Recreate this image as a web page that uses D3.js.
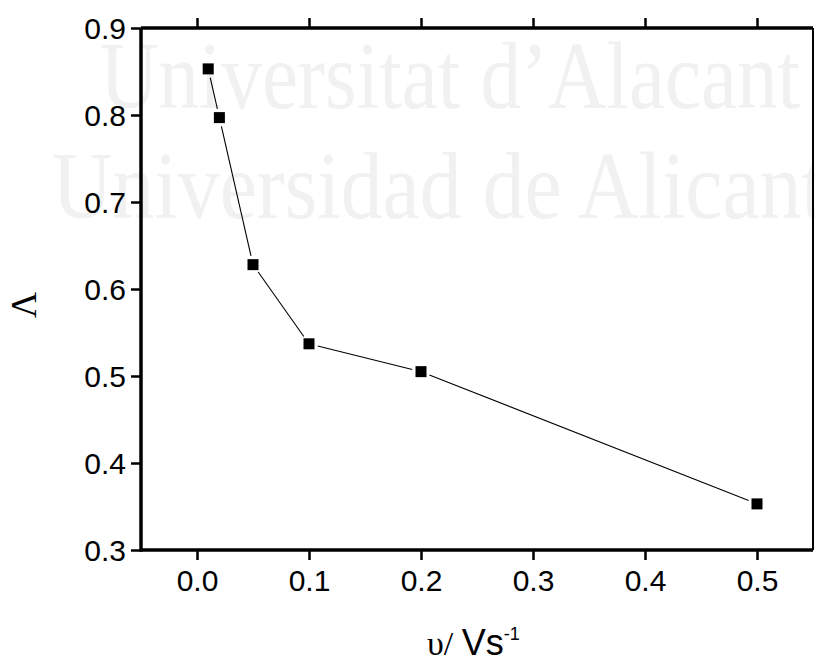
<!DOCTYPE html>
<html>
<head>
<meta charset="utf-8">
<script src="https://cdn.jsdelivr.net/npm/d3@7"></script>
<style>
  body { margin: 0; background: #fff; }
  svg { display: block; }
</style>
</head>
<body>
<div id="graf"></div>
<script>
// datos
const scanRate = [0.01, 0.02, 0.05, 0.1, 0.2, 0.5]
const lambda = [0.853, 0.797, 0.628, 0.537, 0.505, 0.353]
const xTicks = [0.0, 0.1, 0.2, 0.3, 0.4, 0.5]
const yTicks = [0.3, 0.4, 0.5, 0.6, 0.7, 0.8, 0.9]
const watermark = ['Universitat d\u2019Alacant', 'Universidad de Alicante']

const ancho_total = 815, alto_total = 661
const margins = { top: 28, left: 141, right: 2, bottom: 111 }
const ancho = ancho_total - margins.left - margins.right
const alto = alto_total - margins.top - margins.bottom

const svg = d3.select('#graf').append('svg')
  .attr('width', ancho_total)
  .attr('height', alto_total)

// marca de agua
svg.append('g').selectAll('text')
  .data(watermark)
  .join('text')
  .attr('x', (d, i) => i == 0 ? 100 : 52)
  .attr('y', (d, i) => i == 0 ? 108 : 218)
  .attr('textLength', (d, i) => i == 0 ? 700 : 810)
  .attr('lengthAdjust', 'spacingAndGlyphs')
  .style('font-family', '"Liberation Serif", serif')
  .style('font-size', '95px')
  .style('fill', '#f1f1f1')
  .text(d => d)

const g = svg.append('g')
  .attr('transform', `translate(${margins.left}, ${margins.top})`)

const x = d3.scaleLinear().domain([-0.05, 0.55]).range([0, ancho])
const y = d3.scaleLinear().domain([0.3, 0.9]).range([alto, 0])

// ejes
const fmt = d3.format('.1f')
const tickStyle = sel => {
  sel.select('.domain').remove()
  sel.selectAll('.tick line').attr('stroke', '#000').attr('stroke-width', 2.5)
  sel.selectAll('.tick text')
    .style('font-family', '"Liberation Sans", Arial, sans-serif')
    .style('font-size', '30px')
    .attr('fill', '#000')
}

g.append('g')
  .attr('transform', `translate(0, ${alto})`)
  .call(d3.axisBottom(x).tickValues(xTicks).tickFormat(fmt).tickSizeInner(10).tickSizeOuter(0).tickPadding(10))
  .call(tickStyle)

g.append('g')
  .call(d3.axisTop(x).tickValues(xTicks).tickFormat('').tickSizeInner(10).tickSizeOuter(0))
  .call(tickStyle)

g.append('g')
  .call(d3.axisLeft(y).tickValues(yTicks).tickFormat(fmt).tickSizeInner(10).tickSizeOuter(0).tickPadding(5))
  .call(tickStyle)
  .selectAll('.tick text').attr('dy', '0.36em')

// marco
g.append('line').attr('x1', ancho).attr('x2', ancho).attr('y1', 0).attr('y2', alto)
  .attr('stroke', '#000').attr('stroke-width', 2)
g.append('line').attr('x1', 0).attr('x2', ancho).attr('y1', 0).attr('y2', 0)
  .attr('stroke', '#000').attr('stroke-width', 3.5)
g.append('line').attr('x1', 0).attr('x2', ancho).attr('y1', alto).attr('y2', alto)
  .attr('stroke', '#000').attr('stroke-width', 3.5)
g.append('line').attr('x1', 0).attr('x2', 0).attr('y1', 0).attr('y2', alto + 1.75)
  .attr('stroke', '#000').attr('stroke-width', 3.5)

// linea con huecos junto a los marcadores
const puntos = scanRate.map((d, i) => ({ x: x(d), y: y(lambda[i]) }))
const gap = 9
const segs = []
for (let i = 0; i < puntos.length - 1; i++) {
  const a = puntos[i], b = puntos[i + 1]
  const len = Math.hypot(b.x - a.x, b.y - a.y)
  const ux = (b.x - a.x) / len, uy = (b.y - a.y) / len
  segs.push({ x1: a.x + ux * gap, y1: a.y + uy * gap, x2: b.x - ux * gap, y2: b.y - uy * gap })
}
g.selectAll('.seg')
  .data(segs)
  .join('line')
  .attr('class', 'seg')
  .attr('x1', d => d.x1).attr('y1', d => d.y1)
  .attr('x2', d => d.x2).attr('y2', d => d.y2)
  .attr('stroke', '#000').attr('stroke-width', 1.1)

const size = 11
g.selectAll('.pt')
  .data(scanRate)
  .join('rect')
  .attr('class', 'pt')
  .attr('x', d => x(d) - size / 2)
  .attr('y', (d, i) => y(lambda[i]) - size / 2)
  .attr('width', size)
  .attr('height', size)
  .attr('fill', '#000')

// titulos
svg.append('text')
  .attr('transform', 'translate(36, 305) rotate(-90)')
  .attr('text-anchor', 'middle')
  .style('font-family', '"Liberation Serif", serif')
  .style('font-size', '36px')
  .text('\u039B')

const xt = svg.append('text')
  .attr('x', 427)
  .attr('y', 655)
xt.append('tspan')
  .style('font-family', '"Liberation Serif", serif')
  .style('font-size', '34px')
  .text('\u03C5/ ')
xt.append('tspan')
  .style('font-family', '"Liberation Sans", Arial, sans-serif')
  .style('font-size', '36px')
  .text('Vs')
xt.append('tspan')
  .attr('dy', -15)
  .style('font-family', '"Liberation Sans", Arial, sans-serif')
  .style('font-size', '18px')
  .text('-1')
</script>
</body>
</html>
